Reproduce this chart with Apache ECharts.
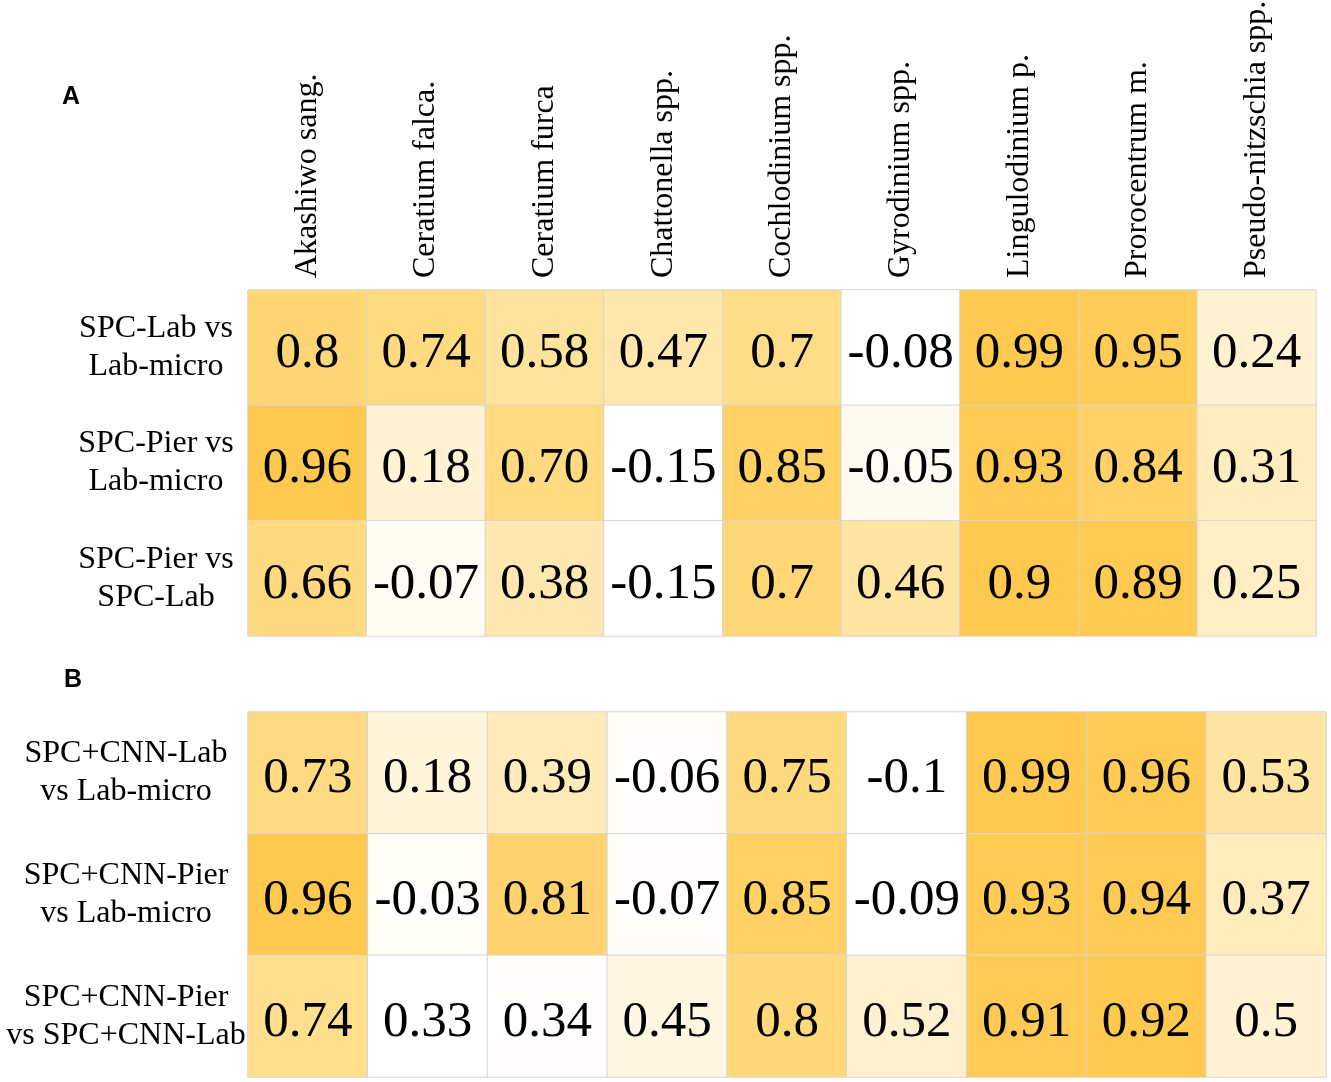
<!DOCTYPE html>
<html>
<head>
<meta charset="utf-8">
<script src="https://cdn.jsdelivr.net/npm/echarts@6/dist/echarts.min.js"></script>
<style>
  html, body { margin: 0; padding: 0; background: #fff; }
  #chart { width: 1331px; height: 1082px; }
</style>
</head>
<body>
<div id="chart"></div>
<script>
// species along the top
var species = ['Akashiwo sang.', 'Ceratium falca.', 'Ceratium furca', 'Chattonella spp.',
  'Cochlodinium spp.', 'Gyrodinium spp.', 'Lingulodinium p.', 'Prorocentrum m.', 'Pseudo-nitzschia spp.'];

// panel A rows
var rowsA = ['SPC-Lab vs\nLab-micro', 'SPC-Pier vs\nLab-micro', 'SPC-Pier vs\nSPC-Lab'];
var a1 = ['0.8', '0.74', '0.58', '0.47', '0.7', '-0.08', '0.99', '0.95', '0.24'];
var a2 = ['0.96', '0.18', '0.70', '-0.15', '0.85', '-0.05', '0.93', '0.84', '0.31'];
var a3 = ['0.66', '-0.07', '0.38', '-0.15', '0.7', '0.46', '0.9', '0.89', '0.25'];

// panel B rows
var rowsB = ['SPC+CNN-Lab\nvs Lab-micro', 'SPC+CNN-Pier\nvs Lab-micro', 'SPC+CNN-Pier\nvs SPC+CNN-Lab'];
var b1 = ['0.73', '0.18', '0.39', '-0.06', '0.75', '-0.1', '0.99', '0.96', '0.53'];
var b2 = ['0.96', '-0.03', '0.81', '-0.07', '0.85', '-0.09', '0.93', '0.94', '0.37'];
var b3 = ['0.74', '0.33', '0.34', '0.45', '0.8', '0.52', '0.91', '0.92', '0.5'];

var ramp = ['#ffffff', '#fff5db', '#ffe8b0', '#ffdb84', '#ffc94f'];
var serif = 'Liberation Serif';

var myChart = echarts.init(document.getElementById('chart'));

var series = [];
var visualMaps = [];

/**
 * one heatmap series per row, coloured on that row's own min/max
 */
function addRow(vals, rowIdx, gridIdx) {
    var nums = vals.map(Number);
    var data = vals.map(function (v, i) {
        return { value: [i, rowIdx, Number(v)], label: { formatter: v } };
    });
    visualMaps.push({
        type: 'continuous',
        show: false,
        seriesIndex: series.length,
        dimension: 2,
        min: Math.min.apply(null, nums),
        max: Math.max.apply(null, nums),
        inRange: { color: ramp }
    });
    series.push({
        type: 'heatmap',
        xAxisIndex: gridIdx,
        yAxisIndex: gridIdx,
        data: data,
        itemStyle: { borderColor: '#d6d6d6', borderWidth: 1 },
        label: { show: true, color: '#000', fontFamily: serif, fontSize: 51, offset: [0, 6] },
        emphasis: { disabled: true }
    });
}

[a1, a2, a3].forEach(function (r, i) { addRow(r, i, 0); });
[b1, b2, b3].forEach(function (r, i) { addRow(r, i, 1); });

var option = {
    animation: false,
    backgroundColor: '#fff',
    title: [
        { text: 'A', left: 62, top: 85, padding: 0,
          textStyle: { fontFamily: 'Liberation Sans', fontWeight: 'bold', fontSize: 25, color: '#000' } },
        { text: 'B', left: 64, top: 668, padding: 0,
          textStyle: { fontFamily: 'Liberation Sans', fontWeight: 'bold', fontSize: 25, color: '#000' } }
    ],
    grid: [
        { left: 248, top: 290, width: 1068, height: 346, outerBoundsMode: 'none' },
        { left: 248, top: 712, width: 1078, height: 365, outerBoundsMode: 'none' }
    ],
    xAxis: [
        {
            type: 'category', gridIndex: 0, position: 'top', data: species,
            axisLine: { show: false }, axisTick: { show: false }, splitArea: { show: false },
            axisLabel: { rotate: -90, interval: 0, margin: 12, color: '#000', fontFamily: serif, fontSize: 32 }
        },
        {
            type: 'category', gridIndex: 1, data: species,
            axisLine: { show: false }, axisTick: { show: false }, axisLabel: { show: false }
        }
    ],
    yAxis: [
        {
            type: 'category', gridIndex: 0, data: rowsA, inverse: true,
            axisLine: { show: false }, axisTick: { show: false }, splitArea: { show: false },
            axisLabel: { align: 'center', margin: 92, lineHeight: 38, color: '#000', fontFamily: serif, fontSize: 32 }
        },
        {
            type: 'category', gridIndex: 1, data: rowsB, inverse: true,
            axisLine: { show: false }, axisTick: { show: false }, splitArea: { show: false },
            axisLabel: { align: 'center', margin: 122, lineHeight: 38, color: '#000', fontFamily: serif, fontSize: 32 }
        }
    ],
    visualMap: visualMaps,
    series: series
};

myChart.setOption(option);
</script>
</body>
</html>
